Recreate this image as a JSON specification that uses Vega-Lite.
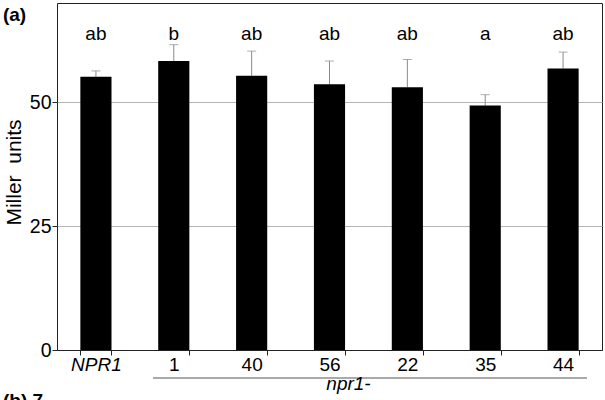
{
  "$schema": "https://vega.github.io/schema/vega-lite/v6.json",
  "autosize": {"type": "none"},
  "padding": {"left": 57, "top": 3, "right": 3, "bottom": 50},
  "width": 545,
  "height": 347,
  "config": {
    "font": "Liberation Sans",
    "view": {"stroke": "#222", "strokeWidth": 1}
  },
  "layer": [
    {
      "data": {
        "values": [
          {"line": "NPR1", "mean": 55.1, "upper": 56.3, "group": "ab"},
          {"line": "1", "mean": 58.3, "upper": 61.6, "group": "b"},
          {"line": "40", "mean": 55.3, "upper": 60.3, "group": "ab"},
          {"line": "56", "mean": 53.6, "upper": 58.3, "group": "ab"},
          {"line": "22", "mean": 53.0, "upper": 58.6, "group": "ab"},
          {"line": "35", "mean": 49.3, "upper": 51.5, "group": "a"},
          {"line": "44", "mean": 56.8, "upper": 60.1, "group": "ab"}
        ]
      },
      "layer": [
        {
          "mark": {"type": "rule", "color": "#8a8a8a", "strokeWidth": 1},
          "encoding": {
            "x": {
              "field": "line", "type": "nominal", "sort": null,
              "scale": {"paddingInner": 0.6, "paddingOuter": 0.3},
              "axis": {
                "title": null, "labelAngle": 0, "domain": true, "domainColor": "#222",
                "tickBand": "extent", "tickSize": 5, "tickColor": "#222",
                "labelFontSize": 19, "labelColor": "black", "labelPadding": 0,
                "labelFontStyle": {"condition": {"test": "datum.value == 'NPR1'", "value": "italic"}, "value": "normal"}
              }
            },
            "y": {
              "field": "mean", "type": "quantitative",
              "scale": {"domain": [0, 70], "nice": false},
              "axis": {
                "title": "Miller\u00a0\u00a0units", "values": [0, 25, 50], "domain": false,
                "grid": true, "gridColor": "#b5b5b5",
                "gridOpacity": {"condition": {"test": "datum.value == 0", "value": 0}, "value": 1},
                "tickSize": 5, "tickColor": "#222", "labelFontSize": 19.5, "labelColor": "black",
                "labelPadding": 1, "titleFontSize": 21, "titleFontWeight": "normal",
                "titleColor": "black", "titlePadding": 5, "titleY": 169
              }
            },
            "y2": {"field": "upper"}
          }
        },
        {
          "mark": {"type": "tick", "color": "#8a8a8a", "size": 9, "thickness": 1},
          "encoding": {
            "x": {"field": "line", "type": "nominal", "sort": null},
            "y": {"field": "upper", "type": "quantitative"}
          }
        },
        {
          "mark": {"type": "bar", "color": "black"},
          "encoding": {
            "x": {"field": "line", "type": "nominal", "sort": null},
            "y": {"field": "mean", "type": "quantitative"}
          }
        },
        {
          "mark": {"type": "text", "fontSize": 19, "baseline": "alphabetic", "color": "black"},
          "encoding": {
            "x": {"field": "line", "type": "nominal", "sort": null},
            "y": {"datum": 62.5, "type": "quantitative"},
            "text": {"field": "group"}
          }
        }
      ]
    },
    {
      "layer": [
        {
          "data": {"values": [{"kind": "npr1 group"}]},
          "mark": {"type": "rule", "color": "#555", "strokeWidth": 1},
          "encoding": {
            "x": {"datum": 1.233, "type": "quantitative", "scale": {"domain": [0, 7], "nice": false, "zero": false}, "axis": null},
            "x2": {"datum": 6.807},
            "y": {"datum": -5.65, "type": "quantitative"}
          }
        },
        {
          "data": {"values": [{"label": "npr1-"}]},
          "mark": {"type": "text", "fontSize": 19, "fontStyle": "italic", "baseline": "alphabetic", "align": "center", "color": "black"},
          "encoding": {
            "x": {"datum": 3.744, "type": "quantitative"},
            "y": {"datum": -8.1, "type": "quantitative"},
            "text": {"field": "label"}
          }
        },
        {
          "data": {"values": [{"label": "(a)"}]},
          "mark": {"type": "text", "fontSize": 19, "fontWeight": "bold", "baseline": "alphabetic", "align": "left", "color": "black"},
          "encoding": {
            "x": {"datum": -0.694, "type": "quantitative"},
            "y": {"datum": 66.3, "type": "quantitative"},
            "text": {"field": "label"}
          }
        },
        {
          "data": {"values": [{"label": "(b) 7"}]},
          "mark": {"type": "text", "fontSize": 19, "fontWeight": "bold", "baseline": "alphabetic", "align": "left", "color": "black"},
          "encoding": {
            "x": {"datum": -0.694, "type": "quantitative"},
            "y": {"datum": -11.4, "type": "quantitative"},
            "text": {"field": "label"}
          }
        }
      ]
    }
  ],
  "resolve": {"scale": {"x": "independent"}}
}
